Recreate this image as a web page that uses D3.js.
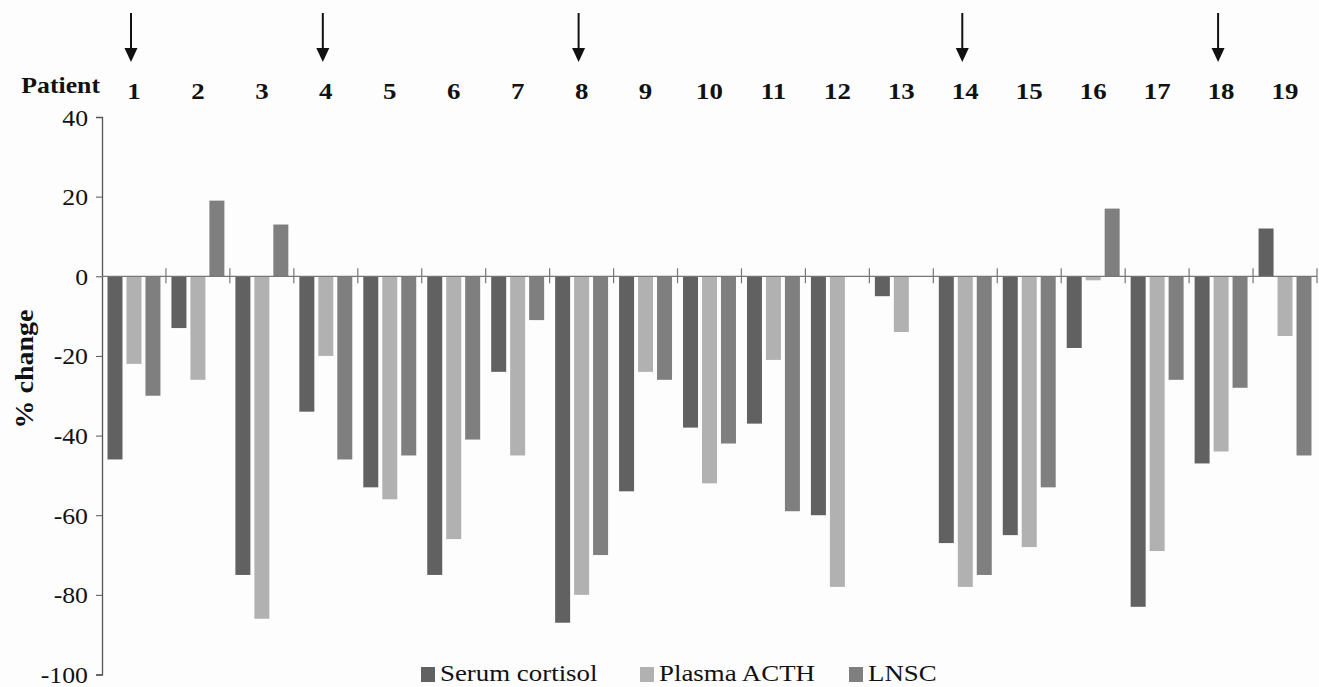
<!DOCTYPE html>
<html>
<head>
<meta charset="utf-8">
<script src="https://cdn.jsdelivr.net/npm/d3@7"></script>
<style>
  body { margin: 0; background: #fdfdfd; }
  svg { display: block; }
</style>
</head>
<body>
<svg id="chart" width="1319" height="687"></svg>
<script>
// Patients and per-patient % change
const patients = d3.range(1, 20).map(String);
const seriesNames = ['Serum cortisol', 'Plasma ACTH', 'LNSC'];
const serumCortisol = [-46, -13, -75, -34, -53, -75, -24, -87, -54, -38, -37, -60, -5, -67, -65, -18, -83, -47, 12];
const plasmaACTH   = [-22, -26, -86, -20, -56, -66, -45, -80, -24, -52, -21, -78, -14, -78, -68, -1, -69, -44, -15];
const lnsc         = [-30, 19, 13, -46, -45, -41, -11, -70, -26, -42, -59, 0, 0, -75, -53, 17, -26, -28, -45];
const arrowPatients = ['1', '4', '8', '14', '18'];
const yTicks = [40, 20, 0, -20, -40, -60, -80, -100];
const colors = ['#616161', '#b1b1b1', '#7f7f7f'];

const seriesValues = [serumCortisol, plasmaACTH, lnsc];
const FONT = '"Liberation Serif"';
const STRETCH = 1.12; // the figure's text is a bit wide
const svg = d3.select('#chart');

// put a text at x,y with the figure's horizontal stretch
function placeText(sel, xPos, yPos, rot) {
  sel.attr('x', null).attr('y', null)
    .attr('transform', `translate(${xPos},${yPos})${rot ? ` rotate(${rot})` : ''} scale(${STRETCH},1)`)
    .attr('font-family', 'Liberation Serif')
    .style('font-family', FONT)
    .attr('fill', '#111');
}

// Scales
const x = d3.scaleBand()
  .domain(patients)
  .range([102, 1317]);

const xInner = d3.scaleBand()
  .domain(seriesNames)
  .range([0, x.bandwidth()])
  .paddingInner(0.21)
  .paddingOuter(0.29);

const y = d3.scaleLinear()
  .domain([-100, 40])
  .range([674.5, 117]);

// Bars
const bars = [];
patients.forEach((p, i) => {
  seriesNames.forEach((s, j) => {
    bars.push({ patient: p, series: s, value: seriesValues[j][i], color: colors[j] });
  });
});

svg.append('g')
  .selectAll('rect')
  .data(bars.filter(d => d.value !== 0))
  .enter().append('rect')
  .attr('x', d => x(d.patient) + xInner(d.series))
  .attr('width', xInner.bandwidth())
  .attr('y', d => y(Math.max(0, d.value)))
  .attr('height', d => Math.abs(y(d.value) - y(0)))
  .attr('fill', d => d.color);

// Y axis
const yAxis = d3.axisLeft(y)
  .tickValues(yTicks)
  .tickSize(6)
  .tickFormat(d => d < 0 ? '-' + Math.abs(d) : String(d));

const yG = svg.append('g')
  .attr('transform', 'translate(102,0)')
  .call(yAxis);
yG.select('.domain').attr('stroke', '#555').attr('stroke-width', 1.3);
yG.selectAll('.tick line').attr('stroke', '#555');
yG.selectAll('.tick text')
  .attr('font-size', 23)
  .attr('dy', null)
  .each(function() { placeText(d3.select(this), -14, 8); });

// Zero line with cross ticks between patients
const zeroG = svg.append('g');
zeroG.append('line')
  .attr('x1', 102).attr('x2', 1317)
  .attr('y1', y(0)).attr('y2', y(0))
  .attr('stroke', '#777').attr('stroke-width', 1.3);
zeroG.selectAll('.ztick')
  .data(patients.slice(1).concat(['end']))
  .enter().append('line')
  .attr('x1', d => d === 'end' ? 1317 : x(d))
  .attr('x2', d => d === 'end' ? 1317 : x(d))
  .attr('y1', y(0) - 8).attr('y2', y(0) + 7)
  .attr('stroke', '#777').attr('stroke-width', 1.2);

// Patient labels across the top
svg.append('text')
  .attr('text-anchor', 'end')
  .attr('font-size', 23)
  .attr('font-weight', 'bold')
  .text('Patient')
  .call(placeText, 100, 93);

svg.append('g')
  .selectAll('text')
  .data(patients)
  .enter().append('text')
  .attr('text-anchor', 'middle')
  .attr('font-size', 24)
  .attr('font-weight', 'bold')
  .text(d => d)
  .each(function(d) { placeText(d3.select(this), x(d) + x.bandwidth() / 2, 99); });

// Arrows over selected patients
const arrowG = svg.append('g')
  .selectAll('g')
  .data(arrowPatients)
  .enter().append('g')
  .attr('transform', d => `translate(${x(d) + x.bandwidth() / 2 - 3},0)`);
arrowG.append('line')
  .attr('x1', 0).attr('x2', 0)
  .attr('y1', 13).attr('y2', 52)
  .attr('stroke', '#111').attr('stroke-width', 2);
arrowG.append('path')
  .attr('d', 'M-6.5,48 L6.5,48 L0,62 Z')
  .attr('fill', '#111');

// Y axis title
svg.append('text')
  .attr('text-anchor', 'middle')
  .attr('font-size', 25)
  .attr('font-weight', 'bold')
  .text('% change')
  .call(placeText, 33, 369, -90);

// Legend
const legendX = [421, 640, 849];
const legend = svg.append('g')
  .selectAll('g')
  .data(seriesNames)
  .enter().append('g')
  .attr('transform', (d, i) => `translate(${legendX[i]},667)`);
legend.append('rect')
  .attr('width', 14).attr('height', 15)
  .attr('fill', (d, i) => colors[i]);
legend.append('text')
  .attr('font-size', 24)
  .text(d => d)
  .each(function() { placeText(d3.select(this), 19, 14); });
</script>
</body>
</html>
